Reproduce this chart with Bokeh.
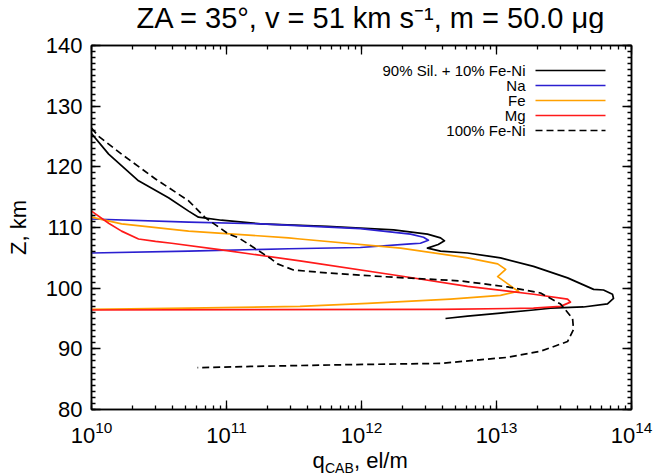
from bokeh.plotting import figure
from bokeh.layouts import column
from bokeh.models import (Range1d, LogAxis, LinearAxis, LogTicker,
                          SingleIntervalTicker, Label, Arrow)
from bokeh.core.properties import value
from bokeh.embed import file_html
from bokeh.resources import INLINE

FONT = "Liberation Sans"

# Charge per unit length (el/m) against altitude (km), traced along each profile
sil_q = [1.0e10, 1.34e10, 2.23e10, 3.72e10, 5.24e10, 6.2e10, 9.18e10, 1.79e11,
         5.6e11, 1.73e12, 3.08e12, 3.85e12, 4.12e12, 3.7e12, 3.08e12, 3.85e12,
         6.1e12, 1.07e13, 1.88e13, 3.36e13, 5.24e13, 6.2e13, 7.23e13, 7.36e13,
         6.64e13, 4.4e13, 2.51e13, 1.88e13, 1.07e13, 6.1e12, 4.19e12]
sil_z = [125.5, 122.1, 117.7, 114.9, 112.7, 111.7, 111.2, 110.6,
         110.2, 109.6, 108.9, 108.3, 107.8, 107.2, 106.6, 106.1,
         105.8, 105.0, 103.6, 101.7, 99.8, 99.7, 99.0, 98.3,
         97.4, 96.9, 96.7, 96.4, 95.9, 95.4, 95.0]

na_q = [1.0e10, 5.24e10, 1.79e11, 9.8e11, 2.31e12, 2.88e12, 3.13e12, 2.73e12,
        2.31e12, 9.8e11, 2.88e11, 5.24e10, 1.0e10]
na_z = [111.4, 110.9, 110.6, 109.8, 108.9, 108.4, 107.9, 107.4,
        107.3, 106.7, 106.5, 106.1, 105.8]

fe_q = [1.0e10, 1.67e10, 5.24e10, 2.88e11, 3.5e11, 1.95e12, 6.1e12, 1.02e13,
        1.17e13, 1.02e13, 1.13e13, 1.34e13, 1.46e13, 1.07e13, 4.56e12, 1.11e12,
        3.5e11, 5.24e10, 1.0e10]
fe_z = [111.7, 110.6, 109.4, 108.3, 108.1, 106.6, 105.0, 104.0,
        103.1, 101.9, 101.2, 100.0, 99.5, 98.8, 98.2, 97.5,
        97.0, 96.7, 96.5]

mg_q = [1.0e10, 1.34e10, 1.67e10, 2.23e10, 2.98e10, 3.92e10, 9.18e10, 3.5e11,
        1.95e12, 6.1e12, 1.88e13, 3.36e13, 3.53e13, 2.98e13, 1.88e13, 3.85e12,
        1.0e10]
mg_z = [112.7, 110.7, 109.4, 108.1, 107.7, 107.4, 106.3, 104.5,
        102.0, 100.3, 99.0, 98.2, 97.7, 97.0, 96.7, 96.5,
        96.4]

feni_q = [1.0e10, 1.12e10, 1.67e10, 2.98e10, 5.24e10, 6.98e10, 1.04e11, 1.23e11,
          2.15e11, 2.39e11, 3.13e11, 5.6e11, 1.73e12, 5.41e12, 1.21e13, 2.12e13,
          2.98e13, 3.66e13, 3.72e13, 3.36e13, 2.12e13, 1.21e13, 6.76e12, 3.85e12,
          8.3e11, 1.51e11, 6.1e10]
feni_z = [126.4, 125.1, 122.1, 118.0, 114.4, 111.6, 108.9, 108.3,
          104.8, 104.0, 103.0, 102.5, 101.8, 101.2, 100.2, 99.2,
          97.4, 95.0, 93.2, 91.2, 89.6, 88.6, 88.1, 87.6,
          87.4, 87.1, 86.9]

legend_labels = ["90% Sil. + 10% Fe-Ni", "Na", "Fe", "Mg", "100% Fe-Ni"]
colors = ["black", "#2b1fd0", "#ffa000", "#ff1a1a", "black"]
dashes = ["solid", "solid", "solid", "solid", "7 4"]

title_text = "ZA = 35\u00b0, v = 51 km s\u207b\u00b9, m = 50.0 \u03bcg"

W = 653
LEFT, RIGHT = 91, 22            # plot frame borders, shared by every row
TITLE_H = 33
LABEL_H = 27
MAIN_H = 475 - TITLE_H - LABEL_H
TOP_B, BOTTOM_B = 12, 39


def text_strip(height):
    """A plain strip whose x coordinates are page pixels, for text around the plot."""
    s = figure(width=W, height=height, x_range=Range1d(LEFT, W - RIGHT),
               y_range=Range1d(0, height), output_backend="svg", toolbar_location=None,
               x_axis_location=None, y_axis_location=None, min_border=0,
               min_border_left=LEFT, min_border_right=RIGHT)
    s.grid.visible = False
    s.outline_line_color = None
    s.border_fill_color = "white"
    s.background_fill_color = "white"
    return s


# title strip
head = text_strip(TITLE_H)
head.text(x=[136], y=[TITLE_H - 17], text=[title_text], text_font=value(FONT),
          text_font_size="29px", text_baseline="middle", text_color="black")

# main plot
p = figure(width=W, height=MAIN_H, x_axis_type="log",
           x_range=Range1d(1e10, 1e14), y_range=Range1d(80, 140),
           output_backend="svg", toolbar_location=None,
           min_border_left=LEFT, min_border_right=RIGHT,
           min_border_top=TOP_B, min_border_bottom=BOTTOM_B)
p.grid.visible = False
p.outline_line_color = "black"
p.outline_line_width = 1.5
p.background_fill_color = "white"
p.border_fill_color = "white"

series = [(sil_q, sil_z), (na_q, na_z), (fe_q, fe_z), (mg_q, mg_z), (feni_q, feni_z)]
for (q, z), c, d in zip(series, colors, dashes):
    p.line(q, z, line_color=c, line_width=1.7, line_dash=d, line_join="round")


def style_axis(ax, labels=True):
    ax.axis_line_width = 1.5
    ax.axis_line_color = "black"
    ax.major_tick_in = 9
    ax.major_tick_out = 0
    ax.minor_tick_in = 4
    ax.minor_tick_out = 0
    ax.major_tick_line_width = 1.3
    ax.minor_tick_line_width = 1.3
    ax.major_tick_line_color = "black"
    ax.minor_tick_line_color = "black"
    ax.major_label_text_font = FONT
    ax.major_label_text_color = "black"
    if labels:
        ax.major_label_text_font_size = "22px"
    else:
        # mirrored axis: ticks only
        ax.major_label_text_font_size = "1px"
        ax.major_label_text_alpha = 0
        ax.major_label_standoff = 0


xticker = LogTicker(desired_num_ticks=5, num_minor_ticks=10)
yticker = SingleIntervalTicker(interval=10, num_minor_ticks=10)

xax = p.xaxis[0]
xax.ticker = xticker
style_axis(xax)
xax.major_label_standoff = 11

yax = p.yaxis[0]
yax.ticker = yticker
style_axis(yax)
yax.major_label_standoff = 9
yax.axis_label = "Z, km"
yax.axis_label_text_font = FONT
yax.axis_label_text_font_size = "22px"
yax.axis_label_text_font_style = "normal"
yax.axis_label_text_color = "black"
yax.axis_label_standoff = 12

top = LogAxis(ticker=xticker)
style_axis(top, labels=False)
p.add_layout(top, "above")

right = LinearAxis(ticker=yticker)
style_axis(right, labels=False)
p.add_layout(right, "right")

# legend: right-aligned names with their line samples to the right
frame_h = MAIN_H - TOP_B - BOTTOM_B
for i, (lab, c, d) in enumerate(zip(legend_labels, colors, dashes)):
    ys = frame_h - (25 + 15 * i)
    p.add_layout(Label(x=434, y=ys, x_units="screen", y_units="screen", text=lab,
                       text_font=FONT, text_font_size="15px", text_color="black",
                       text_align="right", text_baseline="middle"))
    p.add_layout(Arrow(x_start=444, y_start=ys, x_end=514, y_end=ys,
                       start_units="screen", end_units="screen", end=None,
                       line_color=c, line_width=1.7, line_dash=d))

# x-axis title with its subscript, in a strip below the plot
foot = text_strip(LABEL_H)
foot.text(x=[312], y=[LABEL_H - 12], text=["q"], text_font=value(FONT), text_font_size="22px",
          text_baseline="middle", text_color="black")
foot.text(x=[324.5], y=[LABEL_H - 19], text=["CAB"], text_font=value(FONT),
          text_font_size="14px", text_baseline="middle", text_color="black")
foot.text(x=[353.5], y=[LABEL_H - 12], text=[", el/m"], text_font=value(FONT),
          text_font_size="22px", text_baseline="middle", text_color="black")

layout = column(head, p, foot, spacing=0)
open("out.html", "w").write(file_html(layout, INLINE))
